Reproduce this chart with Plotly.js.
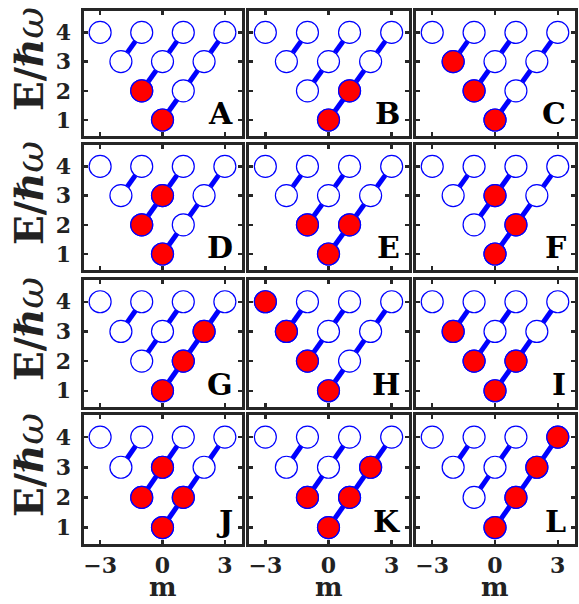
<!DOCTYPE html>
<html>
<head>
<meta charset="utf-8">
<script src="https://cdn.plot.ly/plotly-3.0.1.min.js"></script>
<style>html,body{margin:0;padding:0;background:#fff;}#chart{width:579px;height:604px;}</style>
</head>
<body>
<div id="chart"></div>
<script>
// ---- data ----
const panelLabels = ['A','B','C','D','E','F','G','H','I','J','K','L'];
const stateM = [0, -1, 1, -2, 0, 2, -3, -1, 1, 3];
const stateE = [1, 2, 2, 3, 3, 3, 4, 4, 4, 4];
const chainM = [[0, 1, 2, 3], [-1, 0, 1], [-2, -1]];
const chainE = [[1, 2, 3, 4], [2, 3, 4], [3, 4]];
const occupiedM = [
  [0, -1], [0, 1], [0, -1, -2], [0, -1, 0], [0, -1, 1], [0, 1, 0],
  [0, 1, 2], [0, -1, -2, -3], [0, -1, 1, -2], [0, -1, 1, 0], [0, -1, 1, 2], [0, 1, 2, 3]
];
const occupiedE = [
  [1, 2], [1, 2], [1, 2, 3], [1, 2, 3], [1, 2, 2], [1, 2, 3],
  [1, 2, 3], [1, 2, 3, 4], [1, 2, 2, 3], [1, 2, 2, 3], [1, 2, 2, 3], [1, 2, 3, 4]
];
const xTickVals = [-3, 0, 3];
const xTickText = ['\u22123', '0', '3'];
const yTickVals = [1, 2, 3, 4];
const yTickText = ['1', '2', '3', '4'];

// ---- layout geometry (pixels) ----
const W = 579, H = 604;
const colPx = [[83.5, 241.5], [248.5, 408.5], [415.5, 574.5]];
const rowPx = [[10.5, 135.5], [144.5, 269.5], [279.5, 406.5], [414.5, 543.5]];
const FONT = 'DejaVu Serif';
const frameColor = '#262626';
const bold = s => '<b>' + s + '</b>';

const traces = [];
const layout = {
  width: W, height: H,
  margin: {l: 0, r: 0, t: 0, b: 0},
  paper_bgcolor: '#fff', plot_bgcolor: '#fff',
  showlegend: false,
  annotations: []
};

for (let p = 0; p < 12; p++) {
  const r = Math.floor(p / 3), c = p % 3;
  const idx = p === 0 ? '' : String(p + 1);
  const xa = 'x' + idx, ya = 'y' + idx;
  for (let k = 0; k < chainM.length; k++) {
    traces.push({
      x: chainM[k], y: chainE[k], xaxis: xa, yaxis: ya,
      mode: 'lines', line: {color: '#0000ff', width: 5},
      hoverinfo: 'skip'
    });
  }
  traces.push({
    x: stateM, y: stateE, xaxis: xa, yaxis: ya, mode: 'markers',
    marker: {size: 22, color: '#ffffff', line: {color: '#0000ff', width: 1.2}},
    hoverinfo: 'skip'
  });
  traces.push({
    x: occupiedM[p], y: occupiedE[p], xaxis: xa, yaxis: ya, mode: 'markers',
    marker: {size: 22, color: '#ff0000', line: {color: '#0000ff', width: 1.2}},
    hoverinfo: 'skip'
  });

  const axCommon = {
    showgrid: false, zeroline: false, showline: true, linecolor: frameColor, linewidth: 3,
    mirror: 'ticks', ticks: 'inside', ticklen: 4, tickwidth: 2.5, tickcolor: frameColor,
    fixedrange: true,
    tickfont: {family: FONT, size: 22, color: '#222', weight: 'bold'}
  };
  layout['xaxis' + idx] = Object.assign({}, axCommon, {
    domain: [colPx[c][0] / W, colPx[c][1] / W],
    range: [-3.8, 3.8], anchor: ya,
    tickvals: xTickVals, ticktext: xTickText.map(bold),
    showticklabels: r === 3, ticklabelstandoff: 0
  });
  layout['yaxis' + idx] = Object.assign({}, axCommon, {
    domain: [1 - rowPx[r][1] / H, 1 - rowPx[r][0] / H],
    range: [0.47, 4.75], anchor: xa,
    tickvals: yTickVals, ticktext: yTickText.map(bold),
    showticklabels: c === 0, ticklabelstandoff: 5
  });
  layout.annotations.push({
    text: bold(panelLabels[p]), xref: xa + ' domain', yref: ya + ' domain',
    x: 0.96, y: 0.02, xanchor: 'right', yanchor: 'bottom', showarrow: false,
    font: {family: FONT, size: 30, color: '#000'}
  });
  if (c === 0) {
    layout.annotations.push({
      text: '<b>E/\u210F</b><i>\u03C9</i>', xref: 'paper', yref: 'paper',
      x: 29 / W, y: 1 - ((rowPx[r][0] + rowPx[r][1]) / 2 - 14) / H,
      xanchor: 'center', yanchor: 'middle', textangle: -90, showarrow: false,
      font: {family: FONT, size: 39, color: '#222'}
    });
  }
  if (r === 3) {
    layout.annotations.push({
      text: '<b>m</b>', xref: 'paper', yref: 'paper',
      x: ((colPx[c][0] + colPx[c][1]) / 2) / W, y: 0,
      xanchor: 'center', yanchor: 'bottom', showarrow: false,
      font: {family: FONT, size: 26, color: '#222'}
    });
  }
}

Plotly.newPlot('chart', traces, layout, {staticPlot: true, displayModeBar: false});
</script>
</body>
</html>
